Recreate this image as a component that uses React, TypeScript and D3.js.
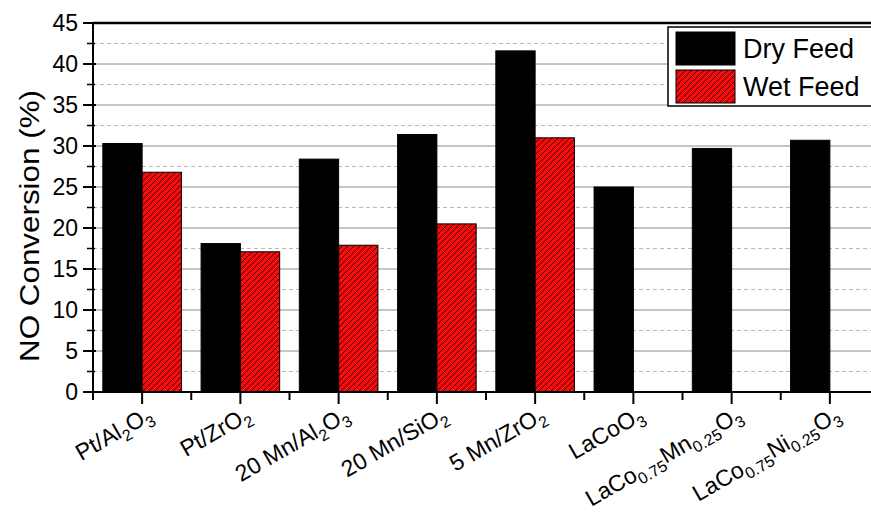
import * as d3 from 'd3'

const categories = [
  'Pt/Al2O3',
  'Pt/ZrO2',
  '20 Mn/Al2O3',
  '20 Mn/SiO2',
  '5 Mn/ZrO2',
  'LaCoO3',
  'LaCo0.75Mn0.25O3',
  'LaCo0.75Ni0.25O3',
]
const dryFeed = [30.3, 18.1, 28.4, 31.4, 41.6, 25.0, 29.7, 30.7]
const wetFeed: (number | null)[] = [26.8, 17.1, 17.9, 20.5, 31.0, null, null, null]
const yTicks = [0, 5, 10, 15, 20, 25, 30, 35, 40, 45]

const width = 871
const height = 512
const margin = { top: 23, left: 93, bottom: 120 }
const plotRight = 879

// split "Al2O3" into normal text and subscript pieces
const splitFormula = (s: string) => {
  const parts: { t: string; sub: boolean }[] = []
  const re = /([A-Za-z])(\d+(?:\.\d+)?)/g
  let last = 0
  let m
  while ((m = re.exec(s)) !== null) {
    const end = m.index + 1
    parts.push({ t: s.slice(last, end), sub: false })
    parts.push({ t: m[2], sub: true })
    last = end + m[2].length
  }
  if (last < s.length) parts.push({ t: s.slice(last), sub: false })
  return parts
}

const App = () => {
  const x = d3.scaleBand().domain(categories).range([margin.left, plotRight]).padding(0)
  const y = d3.scaleLinear().domain([0, 45]).range([height - margin.bottom, margin.top])
  const y0 = y(0)
  const bw = x.bandwidth() * 0.4
  const minorY = d3.range(2.5, 45, 5)
  const font = 'Arial, "Liberation Sans", sans-serif'

  return (
    <svg width={width} height={height} style={{ position: 'absolute', left: 0, top: 0, background: '#fff' }}>
      <defs>
        <pattern id="hatch" patternUnits="userSpaceOnUse" width={6} height={6}>
          <rect width={6} height={6} fill="#f20c0c" />
          <path d="M0,6 L6,0 M-1,1 L1,-1 M5,7 L7,5" stroke="#200" strokeWidth={0.8} />
        </pattern>
      </defs>

      {/* grid */}
      {yTicks.slice(1, -1).map(v => (
        <line key={'g' + v} x1={margin.left} x2={plotRight} y1={y(v)} y2={y(v)} stroke="#8c8c8c" strokeWidth={1} />
      ))}
      {minorY.map(v => (
        <line key={'m' + v} x1={margin.left} x2={plotRight} y1={y(v)} y2={y(v)} stroke="#bbb" strokeWidth={1} strokeDasharray="4,3" />
      ))}

      {/* bars */}
      {categories.map((c, i) => {
        const cx = (x(c) as number) + x.bandwidth() / 2
        const w = wetFeed[i]
        return (
          <g key={c}>
            <rect x={cx - bw} y={y(dryFeed[i])} width={bw} height={y0 - y(dryFeed[i])} fill="#000" stroke="#000" />
            {w !== null && (
              <rect x={cx} y={y(w)} width={bw} height={y0 - y(w)} fill="url(#hatch)" stroke="#000" strokeWidth={1} />
            )}
          </g>
        )
      })}

      {/* axes */}
      <line x1={margin.left} x2={plotRight} y1={margin.top} y2={margin.top} stroke="#000" strokeWidth={2.5} />
      <line x1={margin.left} x2={margin.left} y1={margin.top} y2={y0} stroke="#000" strokeWidth={2} />
      <line x1={margin.left} x2={plotRight} y1={y0} y2={y0} stroke="#000" strokeWidth={2} />

      {yTicks.map(v => (
        <g key={'yt' + v}>
          <line x1={margin.left - 10} x2={margin.left + 3} y1={y(v)} y2={y(v)} stroke="#000" strokeWidth={2} />
          <text x={margin.left - 15} y={y(v)} dy="0.36em" textAnchor="end" fontFamily={font} fontSize={23}>{v}</text>
        </g>
      ))}
      {minorY.map(v => (
        <line key={'ym' + v} x1={margin.left - 6} x2={margin.left + 2} y1={y(v)} y2={y(v)} stroke="#000" strokeWidth={1.5} />
      ))}

      {categories.map(c => {
        const x0 = x(c) as number
        const cx = x0 + x.bandwidth() / 2
        return (
          <g key={'xt' + c}>
            <line x1={x0} x2={x0} y1={y0} y2={y0 + 8} stroke="#000" strokeWidth={2} />
            <line x1={cx} x2={cx} y1={y0} y2={y0 + 12} stroke="#000" strokeWidth={2} />
            <text
              transform={`translate(${cx + 12},${y0 + 27}) rotate(-30)`}
              textAnchor="end"
              fontFamily={font}
              fontSize={23}
            >
              {splitFormula(c).map((p, j) =>
                p.sub ? (
                  <tspan key={j} fontSize={16} dy={6}>{p.t}</tspan>
                ) : (
                  <tspan key={j} dy={j > 0 ? -6 : 0}>{p.t}</tspan>
                )
              )}
            </text>
          </g>
        )
      })}

      <text
        transform={`translate(39,226) rotate(-90)`}
        textAnchor="middle"
        fontFamily={font}
        fontSize={28}
        textLength={272}
        lengthAdjust="spacingAndGlyphs"
      >
        NO Conversion (%)
      </text>

      {/* legend */}
      <rect x={668} y={27} width={230} height={79} fill="#fff" stroke="#000" strokeWidth={1.5} />
      <rect x={676} y={32} width={59} height={33} fill="#000" stroke="#000" />
      <rect x={676} y={70} width={59} height={33} fill="url(#hatch)" stroke="#000" />
      <text x={743} y={58} fontFamily={font} fontSize={27}>Dry Feed</text>
      <text x={743} y={96} fontFamily={font} fontSize={27}>Wet Feed</text>
    </svg>
  )
}

export default App
